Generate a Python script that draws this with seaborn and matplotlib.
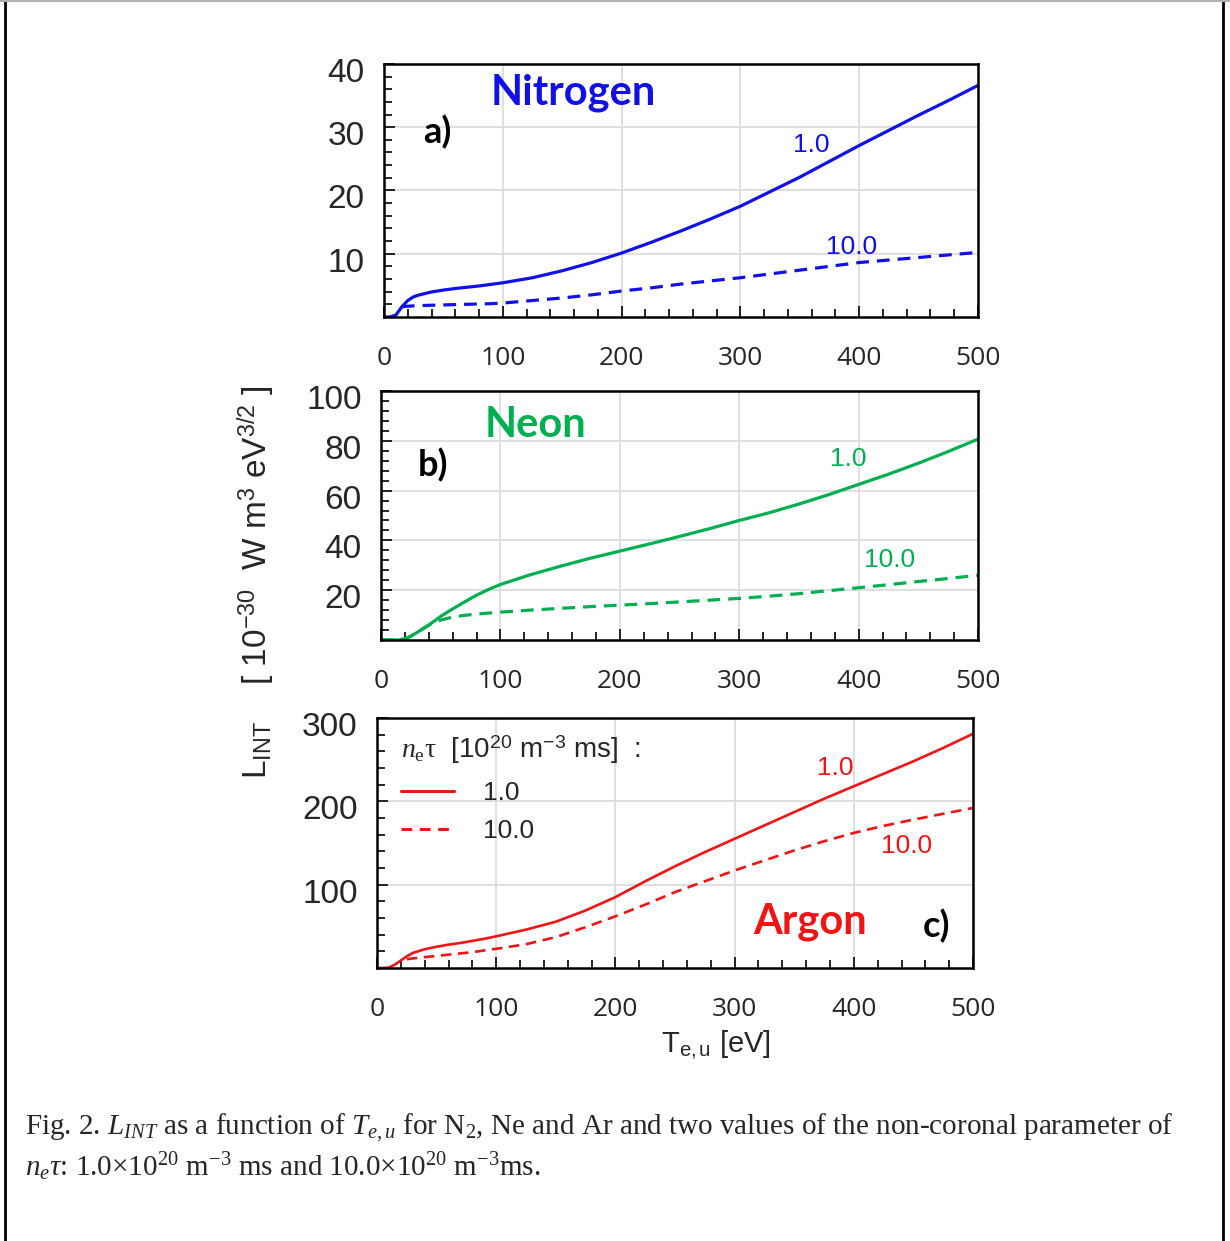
import numpy as np
import pandas as pd
import seaborn as sns
import matplotlib.pyplot as plt
import matplotlib.transforms as mtransforms
from matplotlib.lines import Line2D
from matplotlib.ticker import MultipleLocator

# electron temperature grid [eV], shared by all curves
te = [0, 5, 10, 15, 20, 25, 30, 40, 50, 60, 70, 80, 90, 100, 125, 150, 175,
      200, 225, 250, 275, 300, 325, 350, 375, 400, 425, 450, 475, 500]

nan = np.nan
n2_1 = [0, 0, 0.3, 1.6, 2.6, 3.2, 3.5, 3.95, 4.25, 4.5, 4.7, 4.9, 5.15, 5.4, 6.2, 7.3, 8.6,
        10.1, 11.8, 13.6, 15.5, 17.5, 19.8, 22.1, 24.6, 27.1, 29.5, 31.9, 34.2, 36.6]
n2_10 = [nan, nan, nan, 1.6, 1.7, 1.75, 1.8, 1.85, 1.9, 1.95, 2.0, 2.05, 2.1, 2.2, 2.6, 3.0, 3.5,
         4.1, 4.6, 5.2, 5.7, 6.2, 6.8, 7.4, 8.0, 8.6, 9.0, 9.4, 9.8, 10.2]
ne_1 = [0, 0, 0, 0, 0.5, 1.5, 3, 6, 9.5, 12.5, 15.3, 18, 20.3, 22.3, 26.2, 29.6, 32.8,
        35.7, 38.6, 41.6, 44.7, 48, 51.1, 54.6, 58.4, 62.5, 66.6, 71, 75.7, 80.7]
ne_10 = [0, 0, 0, 0, 0.5, 1.5, 3, 6, 8, 9.2, 9.9, 10.4, 10.8, 11.2, 12.0, 12.7, 13.4,
         14, 14.6, 15.3, 16, 16.7, 17.6, 18.6, 19.8, 21, 22.2, 23.5, 24.7, 26]
ar_1 = [0, 0, 0.5, 4, 9, 14, 18, 22.5, 25.5, 28, 30, 32.5, 35, 38, 46, 55.5, 69,
        85, 104, 122, 139, 155, 171, 187, 203, 218, 233, 248, 264, 281]
ar_10 = [nan, nan, nan, nan, nan, 10.5, 11.5, 13, 14.5, 16, 17.5, 19, 21, 23, 28.5, 37, 49,
         62, 76, 91, 104, 117, 129, 141, 152, 162, 170.5, 178, 185, 192]

gases = ['Nitrogen', 'Neon', 'Argon']
panel_tags = ['a)', 'b)', 'c)']
colors = ['#1010e8', '#00b050', '#f01414']
net_labels = ['1.0', '10.0']

sns.set_style('white')
plt.rcParams['font.family'] = ['Liberation Sans', 'DejaVu Sans']
plt.rcParams['mathtext.fontset'] = 'custom'
plt.rcParams['mathtext.rm'] = 'Liberation Serif'
plt.rcParams['mathtext.it'] = 'Liberation Serif:italic'
plt.rcParams['mathtext.sf'] = 'Liberation Sans'
plt.rcParams['mathtext.bf'] = 'Liberation Serif:bold'

fig = plt.figure(figsize=(12.3, 12.41), dpi=100)

rects = [[0.3122, 0.7446, 0.4829, 0.2039],
         [0.3098, 0.4843, 0.4854, 0.2006],
         [0.3065, 0.2200, 0.4846, 0.2015]]
ymax = [40, 100, 300]
ymajor = [10, 20, 100]
yminor = [2, 4, 20]
series = [(n2_1, n2_10), (ne_1, ne_10), (ar_1, ar_10)]
lw = [2.3, 2.3, 1.9]

# text positions in axes fraction
name_pos = [(0.318, 0.885), (0.258, 0.863), (0.727, 0.184)]
tag_pos = [(0.089, 0.731), (0.087, 0.703), (0.938, 0.168)]
lab1_pos = [(0.72, 0.68), (0.782, 0.727), (0.768, 0.80)]
lab10_pos = [(0.788, 0.277), (0.851, 0.321), (0.889, 0.488)]

dash = (0, (4, 2.5))
shift_down = mtransforms.ScaledTranslation(0, -6 / 100, fig.dpi_scale_trans)
axes = []
for i in range(3):
    ax = fig.add_axes(rects[i])
    axes.append(ax)
    df = pd.DataFrame({'Te': te, 's1': series[i][0], 's10': series[i][1]})
    sns.lineplot(data=df, x='Te', y='s1', color=colors[i], lw=lw[i], ax=ax)
    sns.lineplot(data=df.dropna(), x='Te', y='s10', color=colors[i], lw=lw[i],
                 linestyle=dash, ax=ax)
    ax.set_xlim(0, 500)
    ax.set_ylim(0, ymax[i])
    ax.set_xlabel('')
    ax.set_ylabel('')
    ax.xaxis.set_major_locator(MultipleLocator(100))
    ax.xaxis.set_minor_locator(MultipleLocator(20))
    ax.yaxis.set_major_locator(MultipleLocator(ymajor[i]))
    ax.yaxis.set_minor_locator(MultipleLocator(yminor[i]))
    ax.grid(True, which='major', color='#dcdcdc', lw=1.3)
    ax.set_axisbelow(True)
    for sp in ax.spines.values():
        sp.set_color('black')
        sp.set_linewidth(1.8)
    ax.tick_params(which='both', direction='in', left=True, bottom=True,
                   top=False, right=False, color='black', width=1.2)
    ax.tick_params(which='major', length=8)
    ax.tick_params(which='minor', length=6)
    ax.tick_params(axis='x', which='major', pad=21, labelsize=19)
    ax.tick_params(axis='y', which='major', pad=14, labelsize=24)
    yt = np.arange(ymajor[i], ymax[i] + 1, ymajor[i])
    ax.set_yticks(yt)
    ax.set_yticklabels([str(int(v)) for v in yt])
    for t in ax.get_yticklabels():
        t.set_transform(t.get_transform() + shift_down)
    for t in ax.get_xticklabels():
        t.set_fontfamily('Open Sans')
    ax.text(*name_pos[i], gases[i], transform=ax.transAxes, color=colors[i],
            fontsize=30, fontweight='bold', family='Lato', ha='center', va='center')
    ax.text(*tag_pos[i], panel_tags[i], transform=ax.transAxes, color='black',
            fontsize=26, fontweight='bold', family='Lato', ha='center', va='center')
    ax.text(*lab1_pos[i], net_labels[0], transform=ax.transAxes, color=colors[i],
            fontsize=19, ha='center', va='center')
    ax.text(*lab10_pos[i], net_labels[1], transform=ax.transAxes, color=colors[i],
            fontsize=19, ha='center', va='center')

# legend in the argon panel
handles = [Line2D([], [], color=colors[2], lw=2.2),
           Line2D([], [], color=colors[2], lw=2.2, linestyle=(0, (3.5, 2.5)))]
leg = axes[2].legend(handles, net_labels,
                     title=r'$n_{\mathrm{e}}\mathrm{\tau}$  [10$^{\mathsf{20}}$ m$^{\mathsf{-3}}$ ms]  :',
                     loc='upper left', bbox_to_anchor=(0.005, 1.02), frameon=False,
                     fontsize=19, title_fontsize=20, alignment='left',
                     handlelength=2.0, handletextpad=1.1, labelspacing=0.55,
                     borderpad=0.3)

fig.text(0.208, 0.531,
         r'L$_{\mathsf{INT}}$    [ 10$^{\mathsf{-30}}$  W m$^{\mathsf{3}}$ eV$^{\mathsf{3/2}}$ ]',
         rotation=90, ha='center', va='center', fontsize=24)
fig.text(0.582, 0.158, r'T$_{\mathsf{e,u}}$ [eV]', ha='center', va='center', fontsize=21)

cap1 = (r'Fig. 2. $L_{INT}$ as a function of $T_{e,u}$ for N$_2$, Ne and Ar and two values '
        r'of the non-coronal parameter of')
cap2 = r'$n_e\tau$: 1.0$\times$10$^{20}$ m$^{-3}$ ms and 10.0$\times$10$^{20}$ m$^{-3}$ms.'
fig.text(0.0203, 0.091, cap1, family='Liberation Serif', fontsize=21, va='center')
fig.text(0.0203, 0.0596, cap2, family='Liberation Serif', fontsize=21, va='center')

# page frame
fig.add_artist(Line2D([0.0041, 0.0041], [0, 1], transform=fig.transFigure, color='black', lw=2))
fig.add_artist(Line2D([0.9943, 0.9943], [0, 1], transform=fig.transFigure, color='black', lw=2))
fig.add_artist(Line2D([0, 1], [0.9994, 0.9994], transform=fig.transFigure, color='#b0b0b0', lw=1.5))

fig.savefig('out.png', dpi=100)
